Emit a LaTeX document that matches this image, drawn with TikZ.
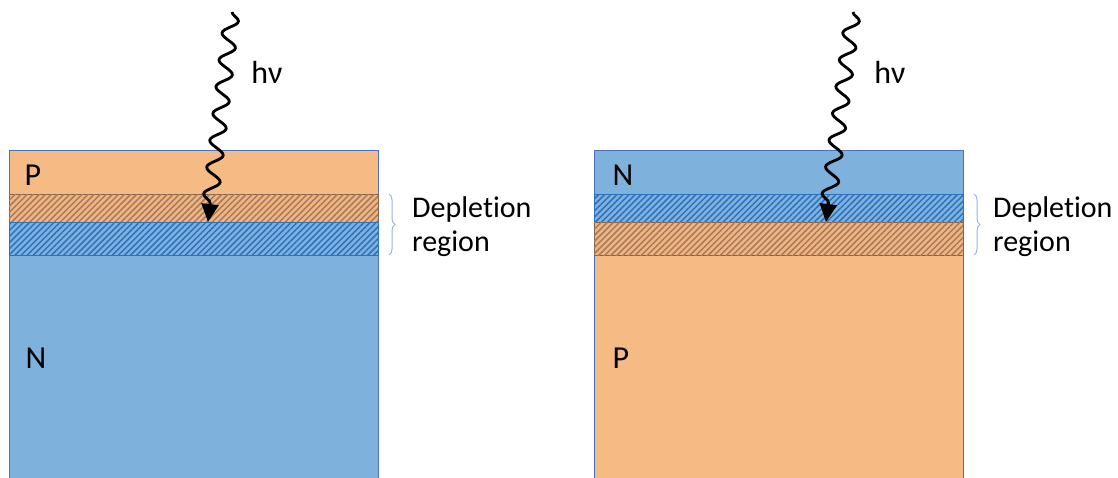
\documentclass[tikz,border=0pt]{standalone}
\usepackage{fontspec}
\setmainfont{Carlito}[Ligatures={NoCommon}]
\usetikzlibrary{patterns.meta,decorations.pathmorphing,decorations.pathreplacing,arrows.meta}
\definecolor{porange}{HTML}{F6BB84}
\definecolor{nblue}{HTML}{7EB1DC}
\definecolor{hatchorange}{HTML}{F2B582}
\definecolor{hatchblue}{HTML}{7FB2DE}
\definecolor{olines}{HTML}{A47B5C}
\definecolor{blines}{HTML}{2E72BD}
\definecolor{edge}{HTML}{4A72C0}
\definecolor{bracecol}{HTML}{9AB4DE}
\tikzset{
  ptype/.style={fill=porange,draw=edge,line width=0.8pt},
  ntype/.style={fill=nblue,draw=edge,line width=0.8pt},
  ohatch/.style={fill=hatchorange,draw=olines!80!black,line width=0.8pt,
    postaction={pattern={Lines[angle=45,distance=4.3pt,line width=1.5pt]},pattern color=olines}},
  bhatch/.style={fill=hatchblue,draw=blines,line width=0.8pt,
    postaction={pattern={Lines[angle=45,distance=4.3pt,line width=1.5pt]},pattern color=blines}},
  lbl/.style={font=\fontsize{32}{36}\selectfont,inner sep=0pt},
  deplbl/.style={font=\fontsize{30}{34}\selectfont,inner sep=0pt,anchor=west,align=left},
  photon/.style={line width=2.8pt,decorate,
    decoration={snake,amplitude=7.5pt,segment length=27pt,post length=16pt},
    -{Triangle[length=18pt,width=17pt]}},
  depbrace/.style={draw=bracecol,line width=1pt,decorate,
    decoration={brace,amplitude=6pt,aspect=0.5}}
}
\begin{document}
\begin{tikzpicture}[x=1pt,y=-1pt]
\useasboundingbox (0,0) rectangle (1118,477);
% left device
\path[ntype] (9,255) rectangle (378,490);
\path[ptype] (9,150) rectangle (378,194);
\path[ohatch] (9,194) rectangle (378,222);
\path[bhatch] (9,222) rectangle (378,255);
\node[lbl] (lP) at (33,175) {P};
\node[lbl] (lN) at (36,358) {N};
\coordinate (lsrc) at (232,12);
\coordinate (ltip) at (208,222);
\draw[photon] (lsrc) -- (ltip);
\node[lbl] (lhv) at (267,72) {hν};
\coordinate (lb1) at (389,194);
\coordinate (lb2) at (389,255);
\draw[depbrace] (lb1) -- (lb2);
\node[deplbl] (ldep) at (412,227) {Depletion\\region};
% right device
\path[ptype] (594,255) rectangle (963,490);
\path[ntype] (594,150) rectangle (963,194);
\path[bhatch] (594,194) rectangle (963,222);
\path[ohatch] (594,222) rectangle (963,255);
\node[lbl] (rN) at (623,175) {N};
\node[lbl] (rP) at (621,358) {P};
\coordinate (rsrc) at (853,12);
\coordinate (rtip) at (826,222);
\draw[photon] (rsrc) -- (rtip);
\node[lbl] (rhv) at (890,72) {hν};
\coordinate (rb1) at (974,194);
\coordinate (rb2) at (974,255);
\draw[depbrace] (rb1) -- (rb2);
\node[deplbl] (rdep) at (993,227) {Depletion\\region};
\end{tikzpicture}
\end{document}
